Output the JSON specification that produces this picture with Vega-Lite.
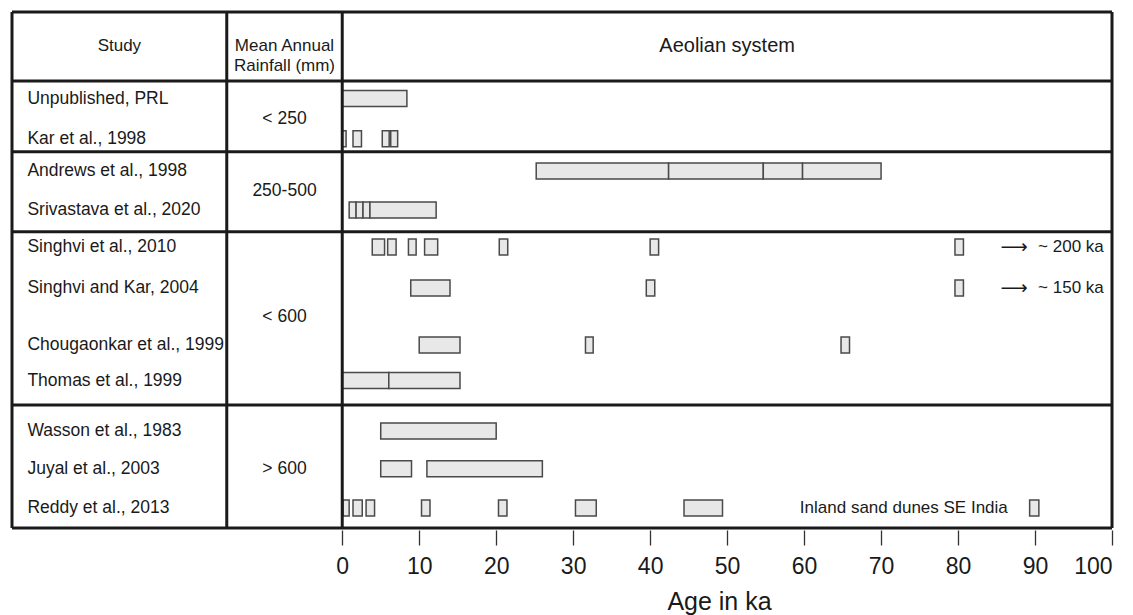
{
  "$schema": "https://vega.github.io/schema/vega-lite/v6.json",
  "width": 1100,
  "height": 516,
  "autosize": {"type": "none"},
  "padding": {"left": 12, "top": 12, "right": 21, "bottom": 87},
  "background": "white",
  "config": {
    "view": {"stroke": null},
    "font": "Liberation Sans, Arial, DejaVu Sans, sans-serif",
    "text": {"font": "Liberation Sans, Arial, DejaVu Sans, sans-serif", "color": "#1a1a1a"},
    "bar": {"continuousBandSize": 16},
    "scale": {"continuousPadding": 0}
  },
  "datasets": {
    "studies": [
      {"row": 0, "study": "Unpublished, PRL", "rainfall": "< 250"},
      {"row": 1, "study": "Kar et al., 1998", "rainfall": "< 250"},
      {"row": 2, "study": "Andrews et al., 1998", "rainfall": "250-500"},
      {"row": 3, "study": "Srivastava et al., 2020", "rainfall": "250-500"},
      {"row": 4, "study": "Singhvi et al., 2010", "rainfall": "< 600"},
      {"row": 5, "study": "Singhvi and Kar, 2004", "rainfall": "< 600"},
      {"row": 6, "study": "Chougaonkar et al., 1999", "rainfall": "< 600"},
      {"row": 7, "study": "Thomas et al., 1999", "rainfall": "< 600"},
      {"row": 8, "study": "Wasson et al., 1983", "rainfall": "> 600"},
      {"row": 9, "study": "Juyal et al., 2003", "rainfall": "> 600"},
      {"row": 10, "study": "Reddy et al., 2013", "rainfall": "> 600"}
    ],
    "bars": [
      {"study": "Unpublished, PRL", "start": 0, "end": 8.4},
      {"study": "Kar et al., 1998", "start": 0, "end": 0.5},
      {"study": "Kar et al., 1998", "start": 1.4, "end": 2.5},
      {"study": "Kar et al., 1998", "start": 5.2, "end": 6.1},
      {"study": "Kar et al., 1998", "start": 6.3, "end": 7.2},
      {"study": "Andrews et al., 1998", "start": 25.2, "end": 42.4},
      {"study": "Andrews et al., 1998", "start": 42.4, "end": 54.7},
      {"study": "Andrews et al., 1998", "start": 54.7, "end": 59.8},
      {"study": "Andrews et al., 1998", "start": 59.8, "end": 70.0},
      {"study": "Srivastava et al., 2020", "start": 0.9, "end": 1.8},
      {"study": "Srivastava et al., 2020", "start": 1.8, "end": 2.7},
      {"study": "Srivastava et al., 2020", "start": 2.7, "end": 3.6},
      {"study": "Srivastava et al., 2020", "start": 3.6, "end": 12.2},
      {"study": "Singhvi et al., 2010", "start": 3.9, "end": 5.5},
      {"study": "Singhvi et al., 2010", "start": 5.9, "end": 7.0},
      {"study": "Singhvi et al., 2010", "start": 8.6, "end": 9.6},
      {"study": "Singhvi et al., 2010", "start": 10.7, "end": 12.4},
      {"study": "Singhvi et al., 2010", "start": 20.4, "end": 21.5},
      {"study": "Singhvi et al., 2010", "start": 40.0, "end": 41.1},
      {"study": "Singhvi et al., 2010", "start": 79.6, "end": 80.7},
      {"study": "Singhvi and Kar, 2004", "start": 8.9, "end": 14.0},
      {"study": "Singhvi and Kar, 2004", "start": 39.5, "end": 40.6},
      {"study": "Singhvi and Kar, 2004", "start": 79.6, "end": 80.7},
      {"study": "Chougaonkar et al., 1999", "start": 10.0, "end": 15.3},
      {"study": "Chougaonkar et al., 1999", "start": 31.6, "end": 32.6},
      {"study": "Chougaonkar et al., 1999", "start": 64.8, "end": 65.9},
      {"study": "Thomas et al., 1999", "start": 0, "end": 6.05},
      {"study": "Thomas et al., 1999", "start": 6.05, "end": 15.3},
      {"study": "Wasson et al., 1983", "start": 5.0, "end": 20.0},
      {"study": "Juyal et al., 2003", "start": 5.0, "end": 9.0},
      {"study": "Juyal et al., 2003", "start": 11.0, "end": 26.0},
      {"study": "Reddy et al., 2013", "start": 0.1, "end": 0.9},
      {"study": "Reddy et al., 2013", "start": 1.4, "end": 2.6},
      {"study": "Reddy et al., 2013", "start": 3.1, "end": 4.2},
      {"study": "Reddy et al., 2013", "start": 10.3, "end": 11.4},
      {"study": "Reddy et al., 2013", "start": 20.3, "end": 21.4},
      {"study": "Reddy et al., 2013", "start": 30.3, "end": 33.0},
      {"study": "Reddy et al., 2013", "start": 44.4, "end": 49.4},
      {"study": "Reddy et al., 2013", "start": 89.3, "end": 90.5}
    ],
    "hlines": [
      {"y": -1.5}, {"y": -0.5}, {"y": 1.5}, {"y": 3.5}, {"y": 7.5}, {"y": 10.5}
    ],
    "vlines": [
      {"x": -42.9}, {"x": -15}, {"x": 0}, {"x": 100}
    ]
  },
  "layer": [
    {
      "data": {"name": "bars"},
      "transform": [
        {"lookup": "study", "from": {"data": {"name": "studies"}, "key": "study", "fields": ["row"]}}
      ],
      "mark": {"type": "bar", "orient": "horizontal", "size": 16, "fill": "#e8e8e8", "stroke": "#4a4a4a", "strokeWidth": 1.5},
      "encoding": {
        "x": {
          "field": "start", "type": "quantitative",
          "scale": {"domain": [-42.9, 100], "zero": false, "nice": false, "padding": 0},
          "axis": {
            "values": [0, 10, 20, 30, 40, 50, 60, 70, 80, 90, 100],
            "domain": false, "grid": false,
            "tickSize": 15, "tickColor": "#333333", "tickWidth": 1.3, "offset": 2,
            "labelFontSize": 23, "labelColor": "#1a1a1a", "labelPadding": 10,
            "labelFont": "Liberation Sans, Arial, sans-serif",
            "title": "Age in ka", "titleFontSize": 25, "titleFontWeight": "normal",
            "titleFont": "Liberation Sans, Arial, sans-serif", "titleColor": "#1a1a1a",
            "titleX": 707, "titlePadding": 11
          }
        },
        "x2": {"field": "end"},
        "y": {
          "field": "row", "type": "quantitative",
          "scale": {
            "domain": [-1.5, -1, -0.5, 0, 1, 1.5, 2, 3, 3.5, 4, 5, 6, 7, 7.5, 8, 9, 10, 10.5],
            "range": [0, 34, 69, 86.5, 126.7, 139.7, 159, 198, 219.7, 235, 276, 333, 368.5, 393, 419, 456.7, 496, 516],
            "zero": false, "nice": false, "padding": 0
          },
          "axis": null
        }
      }
    },
    {
      "data": {"name": "hlines"},
      "mark": {"type": "rule", "stroke": "#1a1a1a", "strokeWidth": 3},
      "encoding": {
        "y": {"field": "y", "type": "quantitative"},
        "x": {"datum": -42.9, "type": "quantitative"},
        "x2": {"datum": 100}
      }
    },
    {
      "data": {"name": "vlines"},
      "mark": {"type": "rule", "stroke": "#1a1a1a", "strokeWidth": 3},
      "encoding": {
        "x": {"field": "x", "type": "quantitative"},
        "y": {"datum": -1.5, "type": "quantitative"},
        "y2": {"datum": 10.5}
      }
    },
    {
      "data": {"name": "studies"},
      "mark": {"type": "text", "align": "left", "baseline": "middle", "fontSize": 17.5},
      "encoding": {
        "x": {"datum": -40.9, "type": "quantitative"},
        "y": {"field": "row", "type": "quantitative"},
        "text": {"field": "study"}
      }
    },
    {
      "data": {"name": "studies"},
      "transform": [
        {"aggregate": [{"op": "mean", "field": "row", "as": "mid"}], "groupby": ["rainfall"]}
      ],
      "mark": {"type": "text", "align": "center", "baseline": "middle", "fontSize": 17.5},
      "encoding": {
        "x": {"datum": -7.5, "type": "quantitative"},
        "y": {"field": "mid", "type": "quantitative"},
        "text": {"field": "rainfall"}
      }
    },
    {
      "data": {"values": [{}]},
      "mark": {"type": "text", "align": "center", "baseline": "middle", "fontSize": 17},
      "encoding": {
        "x": {"datum": -28.95, "type": "quantitative"},
        "y": {"datum": -1, "type": "quantitative"},
        "text": {"value": "Study"}
      }
    },
    {
      "data": {"values": [{}]},
      "mark": {"type": "text", "align": "center", "baseline": "middle", "fontSize": 17, "lineHeight": 20},
      "encoding": {
        "x": {"datum": -7.5, "type": "quantitative"},
        "y": {"datum": -1, "type": "quantitative"},
        "text": {"value": ["Mean Annual", "Rainfall (mm)"]}
      }
    },
    {
      "data": {"values": [{}]},
      "mark": {"type": "text", "align": "center", "baseline": "middle", "fontSize": 20},
      "encoding": {
        "x": {"datum": 50, "type": "quantitative"},
        "y": {"datum": -1, "type": "quantitative"},
        "text": {"value": "Aeolian system"}
      }
    },
    {
      "data": {"values": [{}]},
      "mark": {"type": "text", "align": "left", "baseline": "middle", "fontSize": 19},
      "encoding": {
        "x": {"datum": 85.5, "type": "quantitative"},
        "y": {"datum": 4, "type": "quantitative"},
        "text": {"value": "⟶"}
      }
    },
    {
      "data": {"values": [{}]},
      "mark": {"type": "text", "align": "left", "baseline": "middle", "fontSize": 17},
      "encoding": {
        "x": {"datum": 90.4, "type": "quantitative"},
        "y": {"datum": 4, "type": "quantitative"},
        "text": {"value": "~ 200 ka"}
      }
    },
    {
      "data": {"values": [{}]},
      "mark": {"type": "text", "align": "left", "baseline": "middle", "fontSize": 19},
      "encoding": {
        "x": {"datum": 85.5, "type": "quantitative"},
        "y": {"datum": 5, "type": "quantitative"},
        "text": {"value": "⟶"}
      }
    },
    {
      "data": {"values": [{}]},
      "mark": {"type": "text", "align": "left", "baseline": "middle", "fontSize": 17},
      "encoding": {
        "x": {"datum": 90.4, "type": "quantitative"},
        "y": {"datum": 5, "type": "quantitative"},
        "text": {"value": "~ 150 ka"}
      }
    },
    {
      "data": {"values": [{}]},
      "mark": {"type": "text", "align": "left", "baseline": "middle", "fontSize": 17},
      "encoding": {
        "x": {"datum": 59.45, "type": "quantitative"},
        "y": {"datum": 10, "type": "quantitative"},
        "text": {"value": "Inland sand dunes SE India"}
      }
    }
  ]
}
